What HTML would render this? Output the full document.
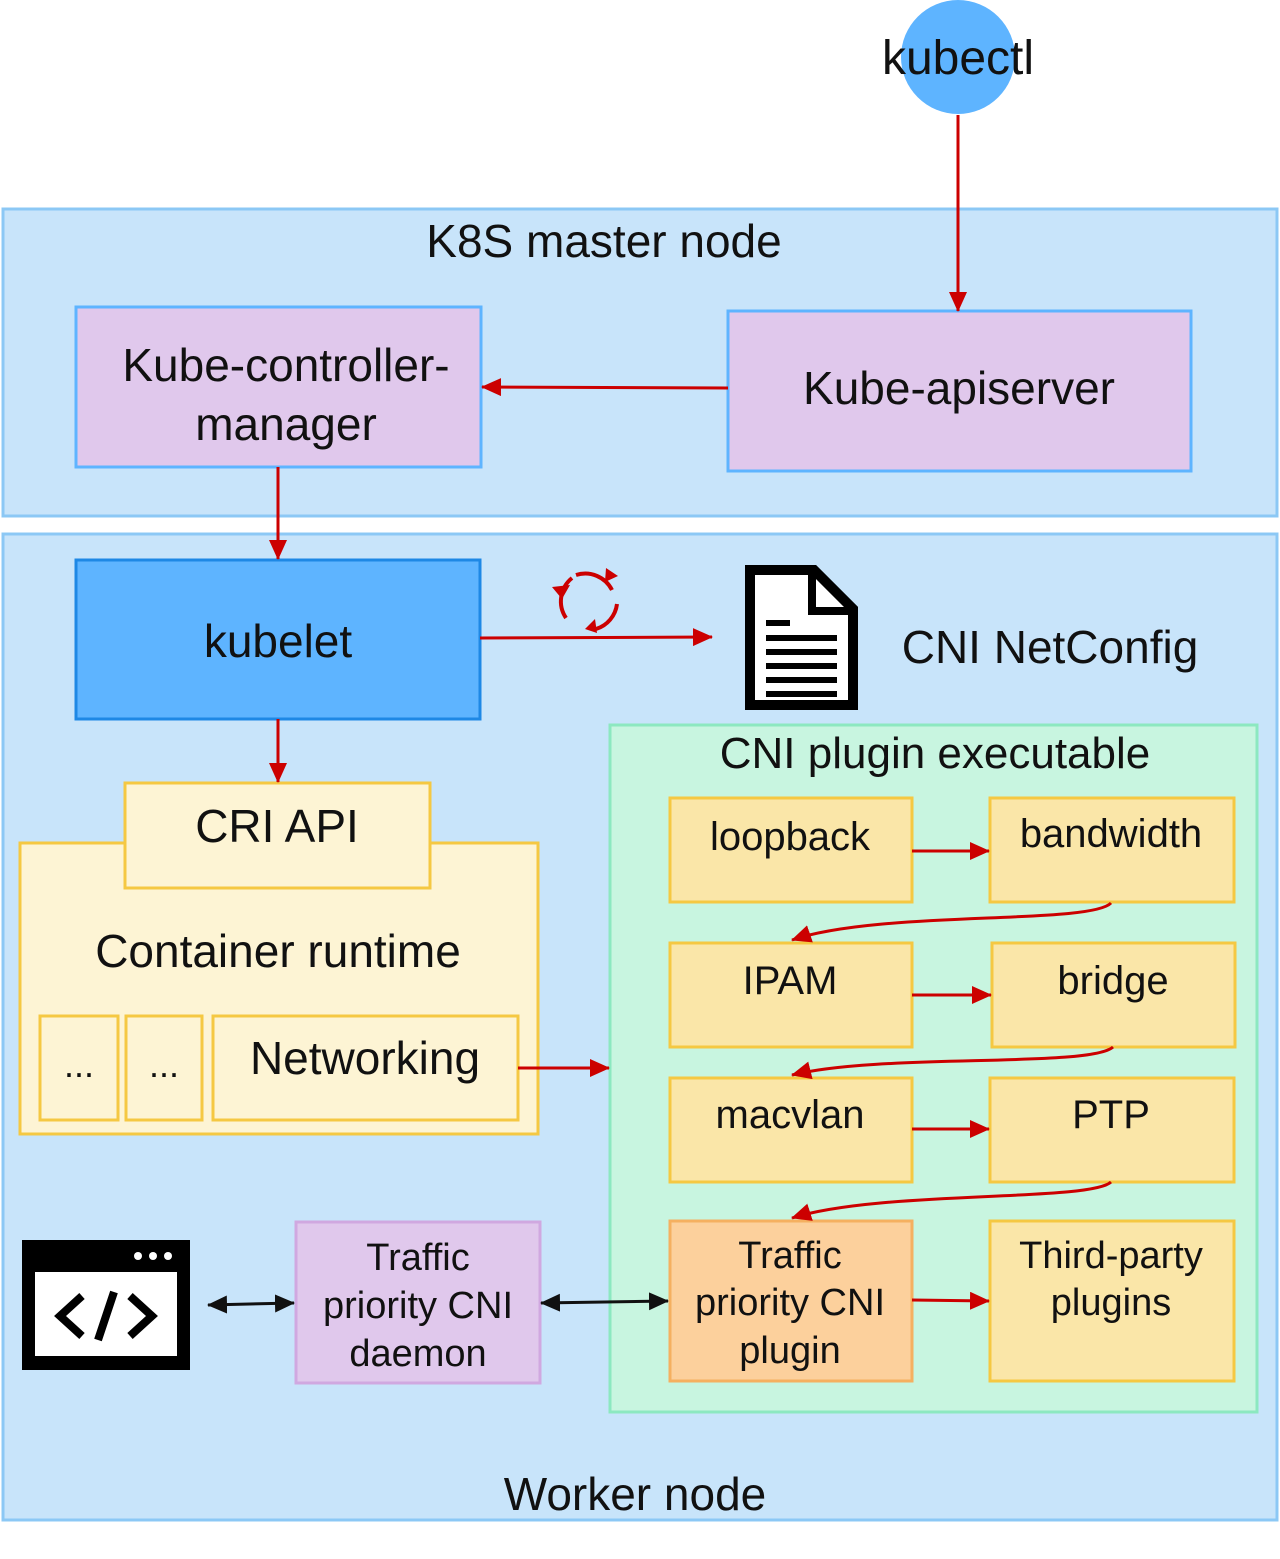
<!DOCTYPE html>
<html><head><meta charset="utf-8"><style>
html,body{margin:0;padding:0;background:#fff}
svg text{font-family:"Liberation Sans",sans-serif;fill:#111}
</style></head><body>
<svg width="1280" height="1554" viewBox="0 0 1280 1554" xmlns="http://www.w3.org/2000/svg">
<defs>
<marker id="rr" markerWidth="20" markerHeight="18" refX="19" refY="9" orient="auto" markerUnits="userSpaceOnUse"><path d="M0,0 L20,9 L0,18z" fill="#cc0000"/></marker>
<marker id="k" markerWidth="20" markerHeight="18" refX="19" refY="9" orient="auto-start-reverse" markerUnits="userSpaceOnUse"><path d="M0,0 L20,9 L0,18z" fill="#111"/></marker>
</defs>
<circle cx="958" cy="57" r="57" fill="#5eb4ff"/>
<text x="958" y="74" font-size="48" text-anchor="middle">kubectl</text>

<rect x="3" y="209" width="1274" height="307" fill="#c8e4fa" stroke="#8cc8f5" stroke-width="3"/>
<text x="604" y="257" font-size="46" text-anchor="middle">K8S master node</text>
<rect x="76" y="307" width="405" height="160" fill="#e0c8ec" stroke="#5eb4ff" stroke-width="3"/>
<text x="286" y="381" font-size="46" text-anchor="middle">Kube-controller-</text>
<text x="286" y="440" font-size="46" text-anchor="middle">manager</text>
<rect x="728" y="311" width="463" height="160" fill="#e0c8ec" stroke="#5eb4ff" stroke-width="3"/>
<text x="959" y="404" font-size="46" text-anchor="middle">Kube-apiserver</text>

<rect x="3" y="534" width="1274" height="986" fill="#c8e4fa" stroke="#8cc8f5" stroke-width="3"/>
<text x="635" y="1510" font-size="46" text-anchor="middle">Worker node</text>
<rect x="76" y="560" width="404" height="159" fill="#5eb4ff" stroke="#1e88e5" stroke-width="3"/>
<text x="278" y="657" font-size="46" text-anchor="middle">kubelet</text>

<!-- refresh icon -->
<path d="M566,618 A30,30 0 0 1 572,578" fill="none" stroke="#cc0000" stroke-width="4"/>
<path d="M576,575 A30,30 0 0 1 612,590" fill="none" stroke="#cc0000" stroke-width="4"/>
<path d="M617,604 A30,30 0 0 1 596,629" fill="none" stroke="#cc0000" stroke-width="4"/>
<path d="M552,587 l10,12 l8,-14z M606,568 l12,8 l-13,6z M597,633 l-2,-14 l-10,10z" fill="#cc0000"/>

<!-- document -->
<path d="M750,570 L814,570 L853,609 L853,705 L750,705z" fill="#fff" stroke="#000" stroke-width="10"/>
<path d="M812,570 L812,611 L853,611" fill="none" stroke="#000" stroke-width="8"/>
<g stroke="#000" stroke-width="6"><line x1="766" y1="623" x2="790" y2="623"/><line x1="766" y1="638" x2="837" y2="638"/><line x1="766" y1="652" x2="837" y2="652"/><line x1="766" y1="666" x2="837" y2="666"/><line x1="766" y1="680" x2="837" y2="680"/><line x1="766" y1="694" x2="837" y2="694"/></g>
<text x="1050" y="663" font-size="46" text-anchor="middle">CNI NetConfig</text>

<!-- CNI plugin executable -->
<rect x="610" y="725" width="647" height="687" fill="#c8f5e0" stroke="#8ce8c0" stroke-width="3"/>
<text x="935" y="768" font-size="44" text-anchor="middle">CNI plugin executable</text>
<g stroke="#f5c842" stroke-width="3" fill="#fae6a8">
<rect x="670" y="798" width="242" height="104"/><rect x="990" y="798" width="244" height="104"/>
<rect x="670" y="943" width="242" height="104"/><rect x="992" y="943" width="243" height="104"/>
<rect x="670" y="1078" width="242" height="104"/><rect x="990" y="1078" width="244" height="104"/>
<rect x="990" y="1221" width="244" height="160"/>
</g>
<rect x="670" y="1221" width="242" height="160" fill="#fcd09c" stroke="#f5b060" stroke-width="3"/>
<rect x="296" y="1222" width="244" height="161" fill="#e0c8ec" stroke="#d0a8e0" stroke-width="3"/>
<g font-size="40" text-anchor="middle">
<text x="790" y="850">loopback</text><text x="1111" y="847">bandwidth</text>
<text x="790" y="994">IPAM</text><text x="1113" y="994">bridge</text>
<text x="790" y="1128">macvlan</text><text x="1111" y="1128">PTP</text>
</g>
<g font-size="38" text-anchor="middle">
<text x="790" y="1268">Traffic</text><text x="790" y="1315">priority CNI</text><text x="790" y="1363">plugin</text>
<text x="1111" y="1268">Third-party</text><text x="1111" y="1315">plugins</text>
<text x="418" y="1270">Traffic</text><text x="418" y="1318">priority CNI</text><text x="418" y="1366">daemon</text>
</g>

<!-- Container runtime -->
<rect x="20" y="843" width="518" height="291" fill="#fdf4d4" stroke="#f5c842" stroke-width="3"/>
<rect x="125" y="783" width="305" height="105" fill="#fdf4d4" stroke="#f5c842" stroke-width="3"/>
<text x="277" y="842" font-size="46" text-anchor="middle">CRI API</text>
<text x="278" y="967" font-size="46" text-anchor="middle">Container runtime</text>
<g fill="#fdf4d4" stroke="#f5c842" stroke-width="3">
<rect x="40" y="1016" width="78" height="104"/><rect x="126" y="1016" width="76" height="104"/><rect x="213" y="1016" width="305" height="104"/>
</g>
<text x="79" y="1077" font-size="36" text-anchor="middle">...</text>
<text x="164" y="1077" font-size="36" text-anchor="middle">...</text>
<text x="365" y="1074" font-size="46" text-anchor="middle">Networking</text>

<!-- code icon -->
<rect x="22" y="1240" width="168" height="130" fill="#000"/>
<rect x="35" y="1272" width="142" height="84" fill="#fff"/>
<circle cx="138" cy="1256" r="4" fill="#fff"/><circle cx="153" cy="1256" r="4" fill="#fff"/><circle cx="168" cy="1256" r="4" fill="#fff"/>
<path d="M82,1296 L60,1316 L82,1336 M130,1296 L152,1316 L130,1336 M114,1292 L98,1340" fill="none" stroke="#000" stroke-width="8"/>

<!-- red arrows -->
<g stroke="#cc0000" stroke-width="3" fill="none" marker-end="url(#rr)">
<line x1="958" y1="115" x2="958" y2="311"/>
<line x1="728" y1="388" x2="482" y2="387"/>
<line x1="278" y1="467" x2="278" y2="559"/>
<line x1="480" y1="638" x2="712" y2="637"/>
<line x1="278" y1="719" x2="278" y2="782"/>
<line x1="518" y1="1068" x2="609" y2="1068"/>
<line x1="912" y1="851" x2="989" y2="851"/>
<line x1="912" y1="995" x2="991" y2="995"/>
<line x1="912" y1="1129" x2="989" y2="1129"/>
<line x1="912" y1="1300" x2="989" y2="1301"/>
<path d="M1111,903 C1090,925 880,910 792,940"/>
<path d="M1113,1047 C1090,1068 880,1053 792,1075"/>
<path d="M1111,1182 C1090,1202 880,1190 792,1218"/>
</g>
<g stroke="#111" stroke-width="3" marker-start="url(#k)" marker-end="url(#k)">
<line x1="208" y1="1305" x2="294" y2="1303"/>
<line x1="541" y1="1303" x2="668" y2="1301"/>
</g>
</svg>
</body></html>
